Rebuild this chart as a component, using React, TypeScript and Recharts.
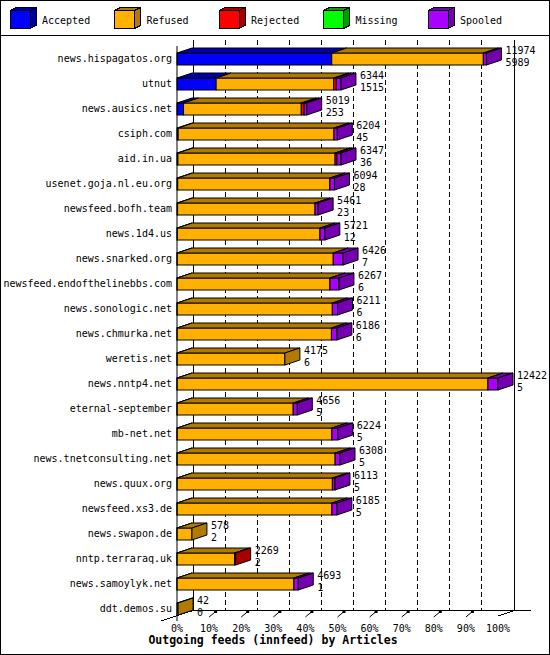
import React from "react";
import { BarChart, Bar, XAxis, YAxis, CartesianGrid } from "recharts";

const hosts = [
  "news.hispagatos.org",
  "utnut",
  "news.ausics.net",
  "csiph.com",
  "aid.in.ua",
  "usenet.goja.nl.eu.org",
  "newsfeed.bofh.team",
  "news.1d4.us",
  "news.snarked.org",
  "newsfeed.endofthelinebbs.com",
  "news.sonologic.net",
  "news.chmurka.net",
  "weretis.net",
  "news.nntp4.net",
  "eternal-september",
  "mb-net.net",
  "news.tnetconsulting.net",
  "news.quux.org",
  "newsfeed.xs3.de",
  "news.swapon.de",
  "nntp.terraraq.uk",
  "news.samoylyk.net",
  "ddt.demos.su",
];
const offered = [11974, 6344, 5019, 6204, 6347, 6094, 5461, 5721, 6426, 6267, 6211, 6186, 4175, 12422, 4656, 6224, 6308, 6113, 6185, 578, 2269, 4693, 42];
const accepted = [5989, 1515, 253, 45, 36, 28, 23, 12, 7, 6, 6, 6, 6, 5, 5, 5, 5, 5, 5, 2, 2, 1, 0];
const refused = [5865, 4549, 4556, 6029, 6081, 5886, 5318, 5519, 6039, 5911, 6005, 5970, 4169, 12027, 4491, 5989, 6113, 6008, 5990, 576, 2227, 4522, 42];
const rejected = [0, 100, 110, 0, 70, 0, 0, 0, 0, 0, 0, 0, 0, 0, 0, 0, 0, 0, 0, 0, 40, 0, 0];
const missing = [0, 0, 0, 0, 0, 0, 0, 0, 0, 0, 0, 0, 0, 0, 0, 0, 0, 0, 0, 0, 0, 0, 0];
const spooled = [120, 180, 100, 130, 160, 180, 120, 190, 380, 350, 200, 210, 0, 390, 160, 230, 190, 100, 190, 0, 0, 170, 0];
const pctTicks = [0, 10, 20, 30, 40, 50, 60, 70, 80, 90, 100];

const SERIES = [
  { key: "accepted", name: "Accepted", color: "#0000ff", dark: "#0000a8", raw: accepted },
  { key: "refused", name: "Refused", color: "#ffb000", dark: "#b07b00", raw: refused },
  { key: "rejected", name: "Rejected", color: "#ff0000", dark: "#a80000", raw: rejected },
  { key: "missing", name: "Missing", color: "#00ff00", dark: "#00a000", raw: missing },
  { key: "spooled", name: "Spooled", color: "#aa00ff", dark: "#7400b0", raw: spooled },
];

const MAX = Math.max(...offered);
const data = hosts.map((host, i) => {
  const row: any = { host, offered: offered[i], acc: accepted[i] };
  SERIES.forEach((s) => {
    row[s.key] = (s.raw[i] / MAX) * 100;
    row[s.key + "Raw"] = s.raw[i];
  });
  return row;
});

const FONT = "'DejaVu Sans Mono', monospace";
const DX = 15;
const DY = 5;

const makeShape = (si: number) => (props: any) => {
  const { x, y, width, height, payload } = props;
  const s = SERIES[si];
  if (!(width > 0)) return <g />;
  const isLast = SERIES.slice(si + 1).every((n) => payload[n.key + "Raw"] === 0);
  const top = `${x},${y} ${x + DX},${y - DY} ${x + width + DX},${y - DY} ${x + width},${y}`;
  const side = `${x + width},${y} ${x + width + DX},${y - DY} ${x + width + DX},${y + height - DY} ${x + width},${y + height}`;
  return (
    <g>
      <rect x={x} y={y} width={width} height={height} fill={s.color} stroke="#000" />
      <polygon points={top} fill={s.dark} stroke="#000" />
      {isLast && <polygon points={side} fill={s.dark} stroke="#000" />}
      {isLast && (
        <text x={x + width + 19} y={y + 1} fontFamily={FONT} fontSize={10} fill="#000">
          {payload.offered}
        </text>
      )}
      {isLast && (
        <text x={x + width + 19} y={y + 12.5} fontFamily={FONT} fontSize={10} fill="#000">
          {payload.acc}
        </text>
      )}
    </g>
  );
};

const HostTick = (props: any) => {
  const { x, y, payload } = props;
  return (
    <text x={x} y={y} dy="0.35em" textAnchor="end" fontFamily={FONT} fontSize={10} fill="#000">
      {payload.value}
    </text>
  );
};

const PctTick = (props: any) => {
  const { x, y, payload } = props;
  const v = payload.value;
  return (
    <g>
      <text x={x} y={y + 11} textAnchor="middle" fontFamily={FONT} fontSize={10} fill="#000">
        {v}%
      </text>
      {v > 0 && v < 100 && (
        <g>
          <line x1={x} y1={y - 4} x2={x + 6} y2={y - 9} stroke="#000" />
          <rect x={x + 5} y={y - 11} width={3} height={3} fill="#000" />
        </g>
      )}
    </g>
  );
};

const Backdrop = () => (
  <svg width={550} height={655} style={{ position: "absolute", left: 0, top: 0 }} shapeRendering="crispEdges">
    <rect x={0.5} y={0.5} width={549} height={654} fill="#fff" stroke="#000" />
    <line x1={0} y1={35.5} x2={550} y2={35.5} stroke="#000" />
    {SERIES.map((s, i) => {
      const lx = 10 + i * 104.5;
      return (
        <g key={s.key}>
          <rect x={lx} y={10.5} width={20} height={18} fill={s.color} stroke="#000" />
          <polygon points={`${lx},10.5 ${lx + 6},7.5 ${lx + 26},7.5 ${lx + 20},10.5`} fill={s.dark} stroke="#000" />
          <polygon points={`${lx + 20},10.5 ${lx + 26},7.5 ${lx + 26},25.5 ${lx + 20},28.5`} fill={s.dark} stroke="#000" />
          <text x={lx + 32} y={24} fontFamily={FONT} fontSize={10} fill="#000" shapeRendering="auto">
            {s.name}
          </text>
        </g>
      );
    })}
    <line x1={161} y1={621} x2={193} y2={610.5} stroke="#000" />
    <line x1={193} y1={610.5} x2={531} y2={610.5} stroke="#000" />
    <line x1={498} y1={616} x2={514} y2={610.5} stroke="#000" />
    <text x={273} y={644} textAnchor="middle" fontFamily={FONT} fontSize={11.5} fontWeight="bold" fill="#000">
      Outgoing feeds (innfeed) by Articles
    </text>
  </svg>
);

export default function App() {
  return (
    <div style={{ position: "absolute", left: 0, top: 0, width: 550, height: 655, fontFamily: FONT }}>
      <Backdrop />
      <div style={{ position: "absolute", left: 0, top: 0 }}>
        <BarChart
          width={550}
          height={655}
          data={data}
          layout="vertical"
          margin={{ top: 46, right: 52, bottom: 20, left: 0 }}
          barSize={12}
        >
          <CartesianGrid
            horizontal={false}
            vertical={(p: any) => (
              <line
                key={p.key}
                x1={p.x1 + 16}
                x2={p.x2 + 16}
                y1={p.y1 - 6}
                y2={p.y2 - 10}
                stroke="#000"
                shapeRendering="crispEdges"
                strokeDasharray={p.index === 0 || p.index === pctTicks.length - 1 ? undefined : "5 3"}
              />
            )}
          />
          <XAxis
            type="number"
            domain={[0, 100]}
            ticks={pctTicks}
            interval={0}
            axisLine={false}
            tickLine={false}
            tickSize={0}
            tickMargin={0}
            height={14}
            tick={PctTick}
          />
          <YAxis
            type="category"
            dataKey="host"
            width={177}
            interval={0}
            tickLine={false}
            tickSize={0}
            tickMargin={5}
            axisLine={{ stroke: "#000" }}
            tick={HostTick}
          />
          {SERIES.map((s, i) => (
            <Bar
              key={s.key}
              dataKey={s.key}
              name={s.name}
              stackId="a"
              fill={s.color}
              isAnimationActive={false}
              shape={makeShape(i)}
            />
          ))}
        </BarChart>
      </div>
    </div>
  );
}
